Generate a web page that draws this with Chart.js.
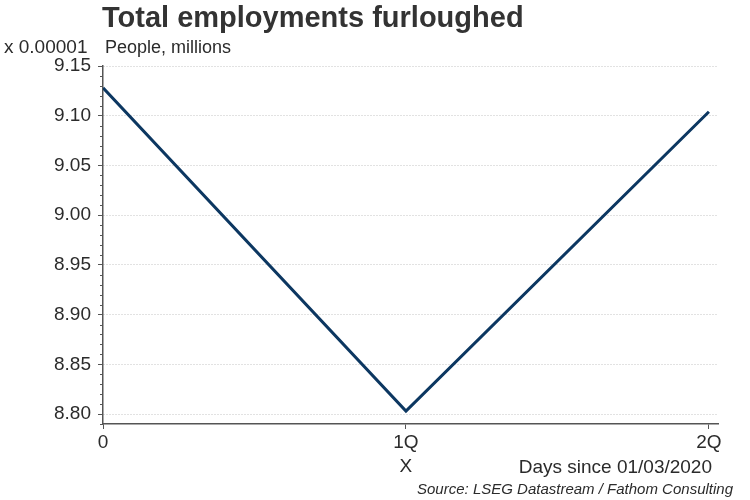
<!DOCTYPE html>
<html>
<head>
<meta charset="utf-8">
<script src="https://cdn.jsdelivr.net/npm/chart.js@4.4.0/dist/chart.umd.min.js"></script>
<style>
  body { margin: 0; background: #fff; }
  canvas { display: block; }
</style>
</head>
<body>
<canvas id="furloughChart" width="750" height="500"></canvas>
<script>
const xValues = [0, 1, 2];
const xTickLabels = ['0', '1Q', '2Q'];
const furloughed = [9.128, 8.803, 9.104];
const yTicks = [8.80, 8.85, 8.90, 8.95, 9.00, 9.05, 9.10, 9.15];

const FONT = '"Liberation Sans", Arial, sans-serif';
const TEXT = '#2b2b2b';

const points = xValues.map((x, i) => ({ x: x, y: furloughed[i] }));

// titles, units, notes, and the small minor ticks on the y axis
const annotations = {
    id: 'annotations',
    afterDraw(chart) {
        const ctx = chart.ctx;
        const area = chart.chartArea;
        const xs = chart.scales.x;
        const ys = chart.scales.y;

        ctx.save();
        ctx.strokeStyle = '#555';
        ctx.lineWidth = 1;
        for (let i = 879; i <= 915; i++) {
            if (i % 5 === 0) continue;
            const py = Math.round(ys.getPixelForValue(i / 100)) + 0.5;
            ctx.beginPath();
            ctx.moveTo(area.left - 3, py);
            ctx.lineTo(area.left, py);
            ctx.stroke();
        }

        ctx.fillStyle = '#333';
        ctx.textBaseline = 'alphabetic';
        ctx.textAlign = 'left';
        ctx.font = 'bold 29px ' + FONT;
        ctx.fillText('Total employments furloughed', 102, 27);

        ctx.fillStyle = TEXT;
        ctx.font = '19px ' + FONT;
        ctx.fillText('x 0.00001', 4, 53);
        ctx.font = '18px ' + FONT;
        ctx.fillText('People, millions', 105, 53);

        ctx.font = '19px ' + FONT;
        ctx.textAlign = 'center';
        ctx.fillText('X', xs.getPixelForValue(1), 472);

        ctx.textAlign = 'right';
        ctx.fillText('Days since 01/03/2020', 712, 473);

        ctx.font = 'italic 15px ' + FONT;
        ctx.fillText('Source: LSEG Datastream / Fathom Consulting', 733, 494);
        ctx.restore();
    }
};

const config = {
    type: 'line',
    data: {
        datasets: [{
            data: points,
            borderColor: '#0c3761',
            borderWidth: 3,
            pointRadius: 0,
            tension: 0,
            fill: false
        }]
    },
    options: {
        responsive: false,
        animation: false,
        devicePixelRatio: 1,
        layout: { padding: { top: 66, right: 32, left: 0, bottom: 0 } },
        plugins: {
            legend: { display: false },
            tooltip: { enabled: false }
        },
        scales: {
            x: {
                type: 'linear',
                min: 0,
                max: 2.03,
                afterBuildTicks: (scale) => { scale.ticks = xValues.map(v => ({ value: v })); },
                afterFit: (scale) => { scale.height = 76; },
                ticks: {
                    autoSkip: false,
                    maxRotation: 0,
                    padding: 2,
                    color: TEXT,
                    font: { family: FONT, size: 19 },
                    callback: (v) => xTickLabels[xValues.indexOf(v)]
                },
                grid: {
                    drawOnChartArea: false,
                    tickLength: 5,
                    tickColor: '#555'
                },
                border: { color: '#555', width: 1.5 }
            },
            y: {
                min: 8.79,
                max: 9.15,
                afterBuildTicks: (scale) => { scale.ticks = yTicks.map(v => ({ value: v })); },
                afterFit: (scale) => { scale.width = 103; },
                ticks: {
                    padding: 7,
                    color: TEXT,
                    font: { family: FONT, size: 19 },
                    callback: (v) => v.toFixed(2)
                },
                grid: {
                    color: '#c4c4c4',
                    lineWidth: 1,
                    tickLength: 5,
                    tickColor: '#555',
                    tickBorderDash: []
                },
                border: { color: '#555', width: 1.5, dash: [1, 2] }
            }
        }
    },
    plugins: [annotations]
};

const furloughChart = new Chart(
    document.getElementById('furloughChart'),
    config
);
</script>
</body>
</html>
